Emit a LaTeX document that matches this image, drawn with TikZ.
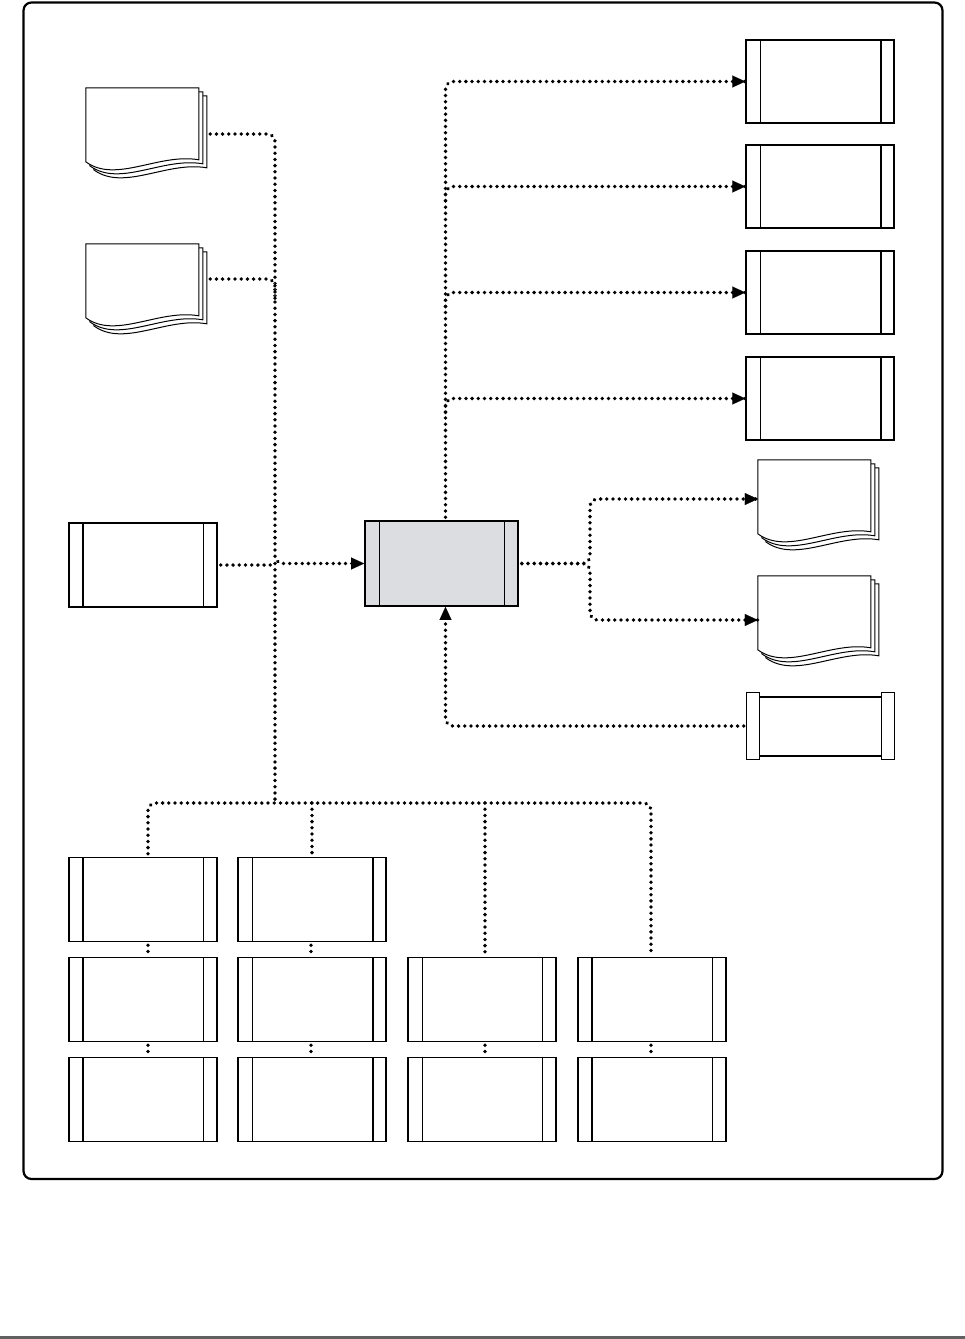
\documentclass[tikz,border=0pt]{standalone}
\usetikzlibrary{arrows.meta,calc,decorations.markings}
\definecolor{procgray}{RGB}{220,221,224}
\definecolor{rulegray}{RGB}{96,96,96}
\newcommand\mdocshape[1]{%
  \foreach \o in {8,4,0}{%
    \draw[docline] ($(#1.north west)+(\o,\o)$) -- ++(0,74)
      .. controls +(30,22) and +(-40,-7) .. ++(113,-2) -- ++(0,-72) -- cycle;
  }}
\tikzset{
  docnode/.style={inner sep=0pt, minimum width=121pt, minimum height=92pt},
  docline/.style={line width=1pt, fill=white, line join=miter},
  pbase/.style={draw, line width=1.4pt, minimum width=148pt, minimum height=84pt, inner sep=0pt, fill=white},
  procR/.style={pbase, path picture={
    \draw[line width=1pt] ([xshift=14pt]path picture bounding box.north west) -- ([xshift=14pt]path picture bounding box.south west);
    \draw[line width=2.4pt] ([xshift=-13pt]path picture bounding box.north east) -- ([xshift=-13pt]path picture bounding box.south east);}},
  procL/.style={pbase, path picture={
    \draw[line width=2.4pt] ([xshift=14pt]path picture bounding box.north west) -- ([xshift=14pt]path picture bounding box.south west);
    \draw[line width=1pt] ([xshift=-14pt]path picture bounding box.north east) -- ([xshift=-14pt]path picture bounding box.south east);}},
  procN/.style={pbase, path picture={
    \draw[line width=1pt] ([xshift=14pt]path picture bounding box.north west) -- ([xshift=14pt]path picture bounding box.south west);
    \draw[line width=1pt] ([xshift=-14pt]path picture bounding box.north east) -- ([xshift=-14pt]path picture bounding box.south east);}},
  dotline/.style={draw=white, line width=0.1pt, rounded corners=8pt,
    decoration={markings, mark=between positions 0 and 1 step 6.2pt with {\fill[black] (0,0) circle[radius=1.9pt];}},
    postaction={decorate}},
  tip/.style={-{Triangle[length=13pt,width=12pt,color=black]}},
}
\begin{document}
\begin{tikzpicture}[x=1pt,y=-1pt]
\useasboundingbox (0,0) rectangle (965,1339);
% frame
\draw[line width=2.2pt, rounded corners=8pt] (23.5,2.5) rectangle (942.5,1179);
\draw[rulegray, line width=2.6pt] (0,1337.6) -- (965,1337.6);

% documents
\node[docnode] (d1) at (146.5,134) {};
\node[docnode] (d2) at (146.5,290) {};
\node[docnode] (d3) at (818.5,506) {};
\node[docnode] (d4) at (818.5,622) {};
\mdocshape{d1}
\mdocshape{d2}
\mdocshape{d3}
\mdocshape{d4}

% right process boxes
\node[procR, minimum height=83pt] (r1) at (820,81.5) {};
\node[procR, minimum height=83pt] (r2) at (820,186.5) {};
\node[procR, minimum height=83pt] (r3) at (820,292.5) {};
\node[procR, minimum height=83pt] (r4) at (820,398.5) {};

% left box and central box
\node[procL] (lb) at (143,565) {};
\node[procN, fill=procgray, line width=1.7pt, minimum width=153pt, minimum height=85pt] (cp) at (441.5,563.5) {};

% horizontal box bottom right
\node[inner sep=0pt, minimum width=147pt, minimum height=66pt] (hb) at (820.5,726) {};
\draw[line width=2.4pt] ($(hb.north west)+(13,4)$) -- ($(hb.north east)+(-13,4)$);
\draw[line width=2.4pt] ($(hb.south west)+(13,-3)$) -- ($(hb.south east)+(-13,-3)$);
\draw[line width=1.3pt, fill=white] (hb.north west) rectangle ($(hb.south west)+(13,0)$);
\draw[line width=1.3pt, fill=white] ($(hb.north east)+(-13,0)$) rectangle (hb.south east);

% bottom grid
\node[procL] (g11) at (143,899.5) {};
\node[procL] (g12) at (143,999.5) {};
\node[procL] (g13) at (143,1099.5) {};
\node[procR] (g21) at (312,899.5) {};
\node[procR] (g22) at (312,999.5) {};
\node[procR] (g23) at (312,1099.5) {};
\node[procN] (g32) at (482,999.5) {};
\node[procN] (g33) at (482,1099.5) {};
\node[procL] (g42) at (652,999.5) {};
\node[procL] (g43) at (652,1099.5) {};

% junction coordinates
\coordinate (jL) at (275,563.5);
\coordinate (jB) at (275,803);
\coordinate (jR) at (590,563.5);
\coordinate (s2) at (275,300);
\coordinate (cpn) at ($(cp.north)+(4,0)$);
\coordinate (cps) at ($(cp.south)+(4,0)$);

% left inputs
\draw[dotline, tip] ($(d1.east)+(3,0)$) -| (jL) -- (cp.west);
\draw[dotline] ($(d2.east)+(3,-11)$) -| (s2);
\draw[dotline] ($(lb.east)+(3,0)$) -- (lb.east -| jL);
\draw[dotline] (jL) -- (jB);

% bus to bottom grid
\draw[dotline] ($(g11.north)+(5,-3)$) |- (jB) -| ($(g42.north)+(-1,-3)$);
\draw[dotline] (g21.north |- jB) -- ($(g21.north)+(0,-3)$);
\draw[dotline] ($(g32.north |- jB)+(3,0)$) -- ($(g32.north)+(3,-3)$);
\draw[dotline] ($(g11.south)+(5,3)$) -- ($(g12.north)+(5,-3)$);
\draw[dotline] ($(g12.south)+(5,3)$) -- ($(g13.north)+(5,-3)$);
\draw[dotline] ($(g21.south)+(-1,3)$) -- ($(g22.north)+(-1,-3)$);
\draw[dotline] ($(g22.south)+(-1,3)$) -- ($(g23.north)+(-1,-3)$);
\draw[dotline] ($(g32.south)+(3,3)$) -- ($(g33.north)+(3,-3)$);
\draw[dotline] ($(g42.south)+(-1,3)$) -- ($(g43.north)+(-1,-3)$);

% outputs to the top right
\draw[dotline, tip] ($(cpn)+(0,-3)$) |- (r1.west);
\draw[dotline, tip] ($(cpn |- r2.west)+(0,14)$) |- (r2.west);
\draw[dotline, tip] ($(cpn |- r3.west)+(0,14)$) |- (r3.west);
\draw[dotline, tip] ($(cpn |- r4.west)+(0,14)$) |- (r4.west);

% outputs to the right documents
\draw[dotline, tip] ($(cp.east)+(3,0)$) -- (jR) |- ($(d3.west)+(0,-7)$);
\draw[dotline, tip] ($(cp.east)+(3,0)$) -- (jR) |- ($(d4.west)+(0,-2)$);

% feedback from bottom right box
\draw[dotline, tip] ($(hb.west)+(-3,0)$) -| (cps);
\end{tikzpicture}
\end{document}
